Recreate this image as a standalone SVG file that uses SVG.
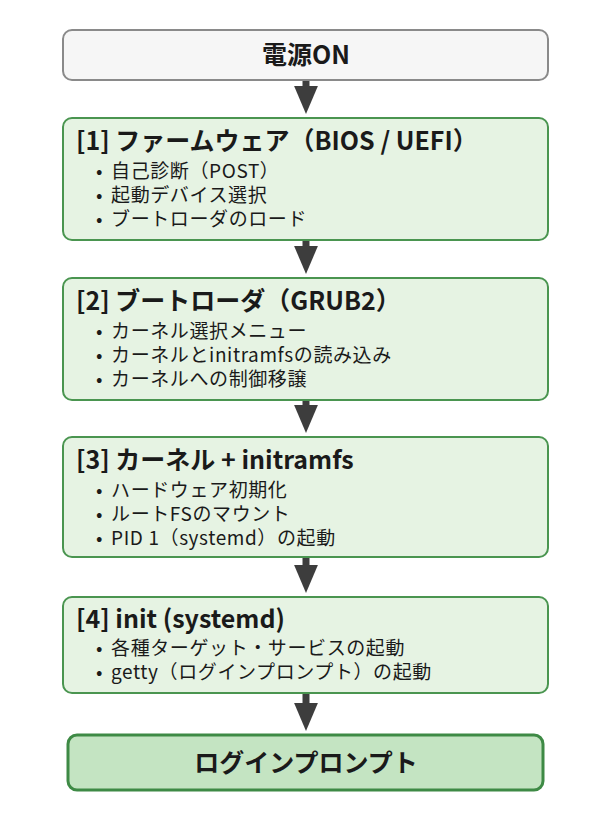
<svg xmlns="http://www.w3.org/2000/svg" width="612" height="819" viewBox="0 0 612 819">
<style>
text{font-family:"Noto Sans CJK JP","Noto Sans",sans-serif;fill:#1a1a1a}
.t{font-size:25px;font-weight:bold}
.b{font-size:19px;letter-spacing:0.6px}
.g{fill:#e6f3e3;stroke:#4a9550;stroke-width:2}
</style>
<defs><marker id="ah" markerWidth="4" markerHeight="4" refX="2" refY="2" orient="auto" markerUnits="strokeWidth"><path d="M0,0.3 L4,2 L0,3.7Z" fill="#3d3d3d"/></marker></defs>
<rect width="612" height="819" fill="#fff"/>
<g id="connectors" stroke="#3d3d3d" stroke-width="7" fill="none">
<line x1="306" y1="80" x2="306" y2="100" marker-end="url(#ah)"/>
<line x1="306" y1="240" x2="306" y2="260" marker-end="url(#ah)"/>
<line x1="306" y1="400" x2="306" y2="419" marker-end="url(#ah)"/>
<line x1="306" y1="557" x2="306" y2="579" marker-end="url(#ah)"/>
<line x1="306" y1="693" x2="306" y2="717" marker-end="url(#ah)"/>
</g>
<g id="power"><rect x="63" y="30" width="485" height="50" rx="9" fill="#f6f6f6" stroke="#8a8a8a" stroke-width="2"/><text class="t" x="306" y="64" text-anchor="middle">電源ON</text></g>
<g id="n1"><rect class="g" x="63" y="118" width="485" height="122" rx="9"/>
<text class="t" x="76" y="150">[1] ファームウェア（BIOS / UEFI）</text>
<text class="b" x="96" y="178">•<tspan dx="8">自己診断（POST）</tspan></text><text class="b" x="96" y="202">•<tspan dx="8">起動デバイス選択</tspan></text><text class="b" x="96" y="226">•<tspan dx="8">ブートローダのロード</tspan></text></g>
<g id="n2"><rect class="g" x="63" y="278" width="485" height="122" rx="9"/>
<text class="t" x="76" y="310">[2] ブートローダ（GRUB2）</text>
<text class="b" x="96" y="338">•<tspan dx="8">カーネル選択メニュー</tspan></text><text class="b" x="96" y="362">•<tspan dx="8">カーネルとinitramfsの読み込み</tspan></text><text class="b" x="96" y="386">•<tspan dx="8">カーネルへの制御移譲</tspan></text></g>
<g id="n3"><rect class="g" x="63" y="437" width="485" height="120" rx="9"/>
<text class="t" x="76" y="469">[3] カーネル + initramfs</text>
<text class="b" x="96" y="497">•<tspan dx="8">ハードウェア初期化</tspan></text><text class="b" x="96" y="521">•<tspan dx="8">ルートFSのマウント</tspan></text><text class="b" x="96" y="545">•<tspan dx="8">PID 1（systemd）の起動</tspan></text></g>
<g id="n4"><rect class="g" x="63" y="597" width="485" height="96" rx="9"/>
<text class="t" x="76" y="628">[4] init (systemd)</text>
<text class="b" x="96" y="655">•<tspan dx="8">各種ターゲット・サービスの起動</tspan></text><text class="b" x="96" y="679">•<tspan dx="8">getty（ログインプロンプト）の起動</tspan></text></g>
<g id="login"><rect x="68" y="735" width="475" height="55" rx="9" fill="#c4e4c2" stroke="#3e8a45" stroke-width="3"/><text class="t" x="306" y="772" text-anchor="middle">ログインプロンプト</text></g>
</svg>
